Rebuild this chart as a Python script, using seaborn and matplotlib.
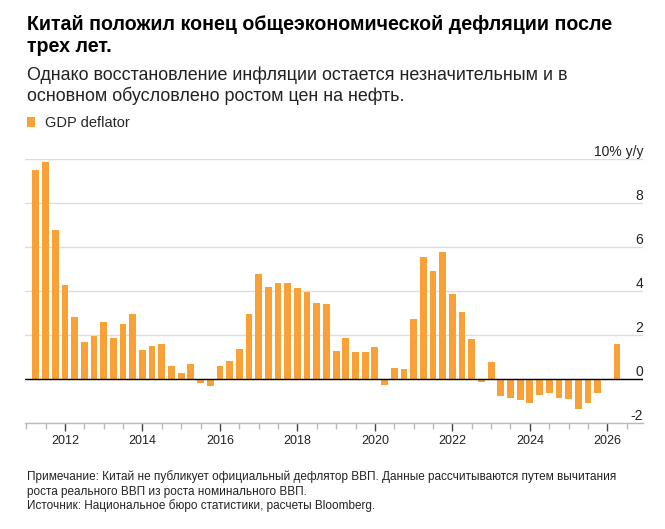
import pandas as pd
import seaborn as sns
import matplotlib.pyplot as plt
from matplotlib.ticker import MultipleLocator

# GDP deflator, % y/y, quarterly 2011Q1 .. 2026Q1
quarters = pd.period_range('2011Q1', '2026Q1', freq='Q')
deflator = [
    9.52, 9.88, 6.79, 4.29,
    2.83, 1.70, 1.97, 2.58,
    1.86, 2.50, 2.97, 1.33,
    1.53, 1.61, 0.59, 0.30,
    0.68, -0.15, -0.29, 0.59,
    0.83, 1.36, 2.94, 4.80,
    4.18, 4.35, 4.36, 4.15,
    3.98, 3.47, 3.42, 1.26,
    1.86, 1.23, 1.23, 1.48,
    -0.24, 0.52, 0.45, 2.74,
    5.55, 4.91, 5.77, 3.88,
    3.06, 1.85, -0.14, 0.80,
    -0.76, -0.85, -0.94, -1.06,
    -0.70, -0.64, -0.83, -0.89,
    -1.36, -1.08, -0.64, -0.05,
    1.61,
]
year_ticks = [2012, 2014, 2016, 2018, 2020, 2022, 2024, 2026]
y_ticks = [-2, 0, 2, 4, 6, 8, 10]
y_labels = ['-2', '0', '2', '4', '6', '8', '10% y/y']

title_lines = ['Китай положил конец общеэкономической дефляции после',
               'трех лет.']
subtitle_lines = ['Однако восстановление инфляции остается незначительным и в',
                  'основном обусловлено ростом цен на нефть.']
note_lines = ['Примечание: Китай не публикует официальный дефлятор ВВП. Данные рассчитываются путем вычитания',
              'роста реального ВВП из роста номинального ВВП.',
              'Источник: Национальное бюро статистики, расчеты Bloomberg.']

ORANGE = '#F9A137'
W, H = 665, 529

df = pd.DataFrame({
    'date': [p.year + p.quarter / 4 for p in quarters],  # quarter end as decimal year
    'value': deflator,
})

sns.set_style('white')
plt.rcParams['font.family'] = ['Liberation Sans', 'DejaVu Sans']

fig = plt.figure(figsize=(W / 100, H / 100), dpi=100)
ax = fig.add_axes([25 / W, 1 - 423.3 / H, (643 - 25) / W, (423.3 - 159) / H])

sns.barplot(data=df, x='date', y='value', native_scale=True, width=0.7,
            color=ORANGE, saturation=1, linewidth=0, label='GDP deflator', ax=ax)

ax.set_xlim(2010.97, 2026.92)
ax.set_ylim(-2, 10)
ax.axhline(0, color='black', lw=1, zorder=3)

ax.set_yticks(y_ticks)
ax.grid(axis='y', color='#dcdcdc', lw=1)
ax.set_axisbelow(True)
ax.tick_params(axis='y', length=0, labelleft=False)
for v, lab in zip(y_ticks, y_labels):
    ax.text(1.0, v, lab, transform=ax.get_yaxis_transform(), ha='right', va='bottom',
            fontsize=10, color='#222222')

ax.set_xticks(year_ticks)
ax.set_xticklabels([str(y) for y in year_ticks])
ax.xaxis.set_minor_locator(MultipleLocator(0.5))
ax.tick_params(axis='x', which='major', length=6, width=1, color='#444444',
               labelsize=9, pad=2.5, bottom=True, labelcolor='#222222')
ax.tick_params(axis='x', which='minor', length=4, width=1, color='#bbbbbb', bottom=True)
ax.set_xlabel('')
ax.set_ylabel('')

for s in ['left', 'right', 'top']:
    ax.spines[s].set_visible(False)
ax.spines['bottom'].set_color('#bbbbbb')
ax.spines['bottom'].set_linewidth(1)

leg = ax.legend(loc='center left', bbox_to_anchor=(26.7 / W, 1 - 123 / H),
                bbox_transform=fig.transFigure, frameon=False, fontsize=10.5,
                handlelength=0.55, handleheight=0.65, handletextpad=0.7,
                borderpad=0, borderaxespad=0)

x0 = 27 / W
for i, line in enumerate(title_lines):
    fig.text(x0, 1 - (29.5 + 23 * i) / H, line, fontsize=14.1, fontweight='bold',
             va='baseline', ha='left', color='black')
for i, line in enumerate(subtitle_lines):
    fig.text(x0, 1 - (80 + 21 * i) / H, line, fontsize=12.9, va='baseline',
             ha='left', color='#222222')
for i, line in enumerate(note_lines):
    fig.text(x0, 1 - (480 + 14.5 * i) / H, line, fontsize=8.5, va='baseline',
             ha='left', color='#222222')

fig.savefig('out.png', dpi=100, facecolor='white')
